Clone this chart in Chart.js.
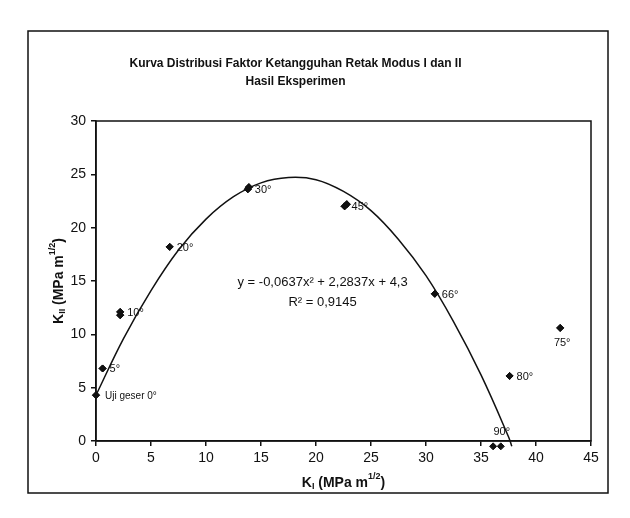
<!DOCTYPE html>
<html>
<head>
<meta charset="utf-8">
<script src="https://cdn.jsdelivr.net/npm/chart.js@4.4.1/dist/chart.umd.min.js"></script>
<style>
  html, body { margin: 0; padding: 0; background: #fff; }
  canvas { display: block; }
</style>
</head>
<body>
<canvas id="kChart" width="630" height="518"></canvas>
<script>
// measured points (K_I, K_II) and their angle labels
var pointLabels = ['Uji geser 0°', '5°', '10°', '', '20°', '30°', '', '45°', '', '66°', '75°', '80°', '', '90°'];
var kI  = [0, 0.6, 2.2, 2.2, 6.7, 13.8, 13.9, 22.6, 22.8, 30.8, 42.2, 37.6, 36.1, 36.8];
var kII = [4.3, 6.8, 12.1, 11.8, 18.2, 23.6, 23.8, 22.0, 22.2, 13.8, 10.6, 6.1, -0.5, -0.5];

// trend curve
var curveX = [0, 2.5, 5, 7.5, 10, 12.5, 15, 17.5, 20, 22.5, 25, 27.5, 30, 32.5, 35, 37.5, 37.8];
var curveY = [4.3, 9.6, 14.1, 17.9, 20.8, 22.9, 24.2, 24.7, 24.5, 23.4, 21.6, 18.9, 15.5, 11.2, 6.2, 0.4, -0.5];

var xTicks = [0, 5, 10, 15, 20, 25, 30, 35, 40, 45];
var yTicks = [0, 5, 10, 15, 20, 25, 30];

var titleLines = ['Kurva Distribusi Faktor Ketangguhan Retak Modus I dan II', 'Hasil Eksperimen'];
var equationLines = ['y = -0,0637x² + 2,2837x + 4,3', 'R² = 0,9145'];

var ink = '#111';
var fontFam = 'Arial, "Liberation Sans", sans-serif';

// draws text made of pieces (normal / sub / sup), centered at x
function richText(ctx, parts, x, y) {
    var total = 0;
    parts.forEach(function (p) {
        ctx.font = (p.bold ? 'bold ' : '') + p.size + 'px ' + fontFam;
        p.w = ctx.measureText(p.t).width;
        total += p.w;
    });
    var cx = x - total / 2;
    ctx.textAlign = 'left';
    ctx.textBaseline = 'middle';
    parts.forEach(function (p) {
        ctx.font = (p.bold ? 'bold ' : '') + p.size + 'px ' + fontFam;
        ctx.fillText(p.t, cx, y + (p.dy || 0));
        cx += p.w;
    });
}

var decor = {
    id: 'decor',
    beforeDraw: function (chart) {
        var ctx = chart.ctx;
        ctx.save();
        ctx.fillStyle = '#fff';
        ctx.fillRect(0, 0, chart.width, chart.height);
        ctx.strokeStyle = ink;
        ctx.lineWidth = 1.5;
        ctx.strokeRect(28, 31, 580, 462);
        ctx.restore();
    },
    afterDatasetsDraw: function (chart) {
        // points just under the x axis (90°) are skipped by Chart.js, draw them anyway
        var whole = {left: 0, top: 0, right: chart.width, bottom: chart.height};
        chart.getDatasetMeta(0).data.forEach(function (pt) {
            pt.draw(chart.ctx, whole);
        });
    },
    afterDraw: function (chart) {
        var ctx = chart.ctx;
        var a = chart.chartArea;
        var xs = chart.scales.x, ys = chart.scales.y;
        ctx.save();
        ctx.strokeStyle = ink;
        ctx.lineWidth = 1.5;
        ctx.strokeRect(a.left, a.top, a.right - a.left, a.bottom - a.top);
        ctx.fillStyle = ink;

        // x axis title
        richText(ctx, [
            {t: 'K', size: 14, bold: true},
            {t: 'I', size: 9, bold: true, dy: 4},
            {t: ' (MPa m', size: 14, bold: true},
            {t: '1/2', size: 9, bold: true, dy: -6},
            {t: ')', size: 14, bold: true}
        ], (a.left + a.right) / 2, 483);

        // y axis title
        ctx.save();
        ctx.translate(59, (a.top + a.bottom) / 2);
        ctx.rotate(-Math.PI / 2);
        richText(ctx, [
            {t: 'K', size: 14, bold: true},
            {t: 'II', size: 9, bold: true, dy: 4},
            {t: ' (MPa m', size: 14, bold: true},
            {t: '1/2', size: 9, bold: true, dy: -6},
            {t: ')', size: 14, bold: true}
        ], 0, 0);
        ctx.restore();

        // point labels
        var meta = chart.getDatasetMeta(0);
        meta.data.forEach(function (pt, i) {
            var lab = pointLabels[i];
            if (!lab) return;
            ctx.textBaseline = 'middle';
            if (lab === 'Uji geser 0°') {
                ctx.font = '10px ' + fontFam;
                ctx.textAlign = 'left';
                ctx.fillText(lab, pt.x + 9, pt.y + 1);
            } else if (lab === '75°') {
                ctx.font = '11px ' + fontFam;
                ctx.textAlign = 'center';
                ctx.fillText(lab, pt.x + 2, pt.y + 15);
            } else if (lab === '90°') {
                ctx.font = '11px ' + fontFam;
                ctx.textAlign = 'center';
                ctx.fillText(lab, pt.x + 1, pt.y - 14);
            } else {
                ctx.font = '11px ' + fontFam;
                ctx.textAlign = 'left';
                ctx.fillText(lab, pt.x + 7, pt.y + 1);
            }
        });

        // trend equation
        ctx.font = '13px ' + fontFam;
        ctx.textAlign = 'center';
        ctx.textBaseline = 'middle';
        var ex = xs.getPixelForValue(20.6);
        ctx.fillText(equationLines[0], ex, ys.getPixelForValue(14.9));
        ctx.fillText(equationLines[1], ex, ys.getPixelForValue(13.0));
        ctx.restore();
    }
};

var kChart = new Chart(document.getElementById('kChart'), {
    type: 'scatter',
    data: {
        datasets: [
            {
                label: 'Eksperimen',
                data: kI.map(function (x, i) { return {x: x, y: kII[i]}; }),
                pointStyle: 'rectRot',
                pointRadius: 3.5,
                backgroundColor: ink,
                borderColor: ink,
                borderWidth: 1,
                clip: false,
                order: 1
            },
            {
                label: 'Trend',
                data: curveX.map(function (x, i) { return {x: x, y: curveY[i]}; }),
                showLine: true,
                pointRadius: 0,
                borderColor: ink,
                borderWidth: 1.5,
                tension: 0.4,
                fill: false,
                clip: false,
                order: 2
            }
        ]
    },
    plugins: [decor],
    options: {
        responsive: false,
        animation: false,
        layout: {
            padding: {left: 0, right: 39, top: 0, bottom: 0}
        },
        plugins: {
            legend: {display: false},
            tooltip: {enabled: false},
            title: {
                display: true,
                text: titleLines,
                color: ink,
                font: {family: fontFam, size: 12, weight: 'bold', lineHeight: 1.5},
                padding: {top: 55, bottom: 30}
            }
        },
        scales: {
            x: {
                type: 'linear',
                min: 0,
                max: 45,
                afterBuildTicks: function (s) {
                    s.ticks = xTicks.map(function (v) { return {value: v}; });
                },
                afterFit: function (s) { s.height = 77; },
                ticks: {color: ink, font: {family: fontFam, size: 14}, padding: 4},
                grid: {drawOnChartArea: false, drawTicks: true, tickLength: 5, color: ink, lineWidth: 1.5},
                border: {color: ink, width: 1.5}
            },
            y: {
                type: 'linear',
                min: 0,
                max: 30,
                afterBuildTicks: function (s) {
                    s.ticks = yTicks.map(function (v) { return {value: v}; });
                },
                afterFit: function (s) { s.width = 96; },
                ticks: {color: ink, font: {family: fontFam, size: 14}, padding: 5},
                grid: {drawOnChartArea: false, drawTicks: true, tickLength: 5, color: ink, lineWidth: 1.5},
                border: {color: ink, width: 1.5}
            }
        }
    }
});
</script>
</body>
</html>
